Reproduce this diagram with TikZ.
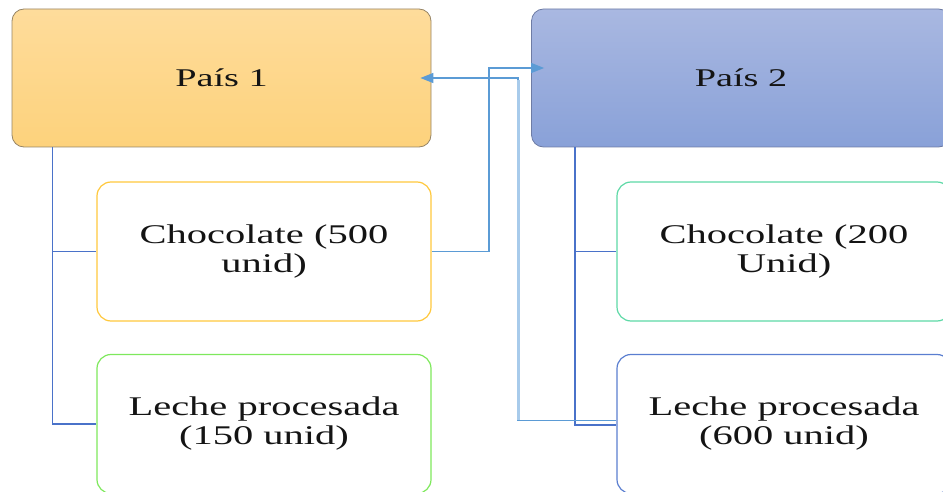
\documentclass[tikz,border=0pt]{standalone}
\usepackage{fontspec}
\setmainfont{Liberation Serif}[FakeStretch=1.5]
\usetikzlibrary{arrows.meta}
\definecolor{txt}{RGB}{20,20,20}
\definecolor{ptop}{RGB}{254,220,155}
\definecolor{pbot}{RGB}{253,210,124}
\definecolor{pbrd}{RGB}{150,132,100}
\definecolor{qtop}{RGB}{169,184,225}
\definecolor{qbot}{RGB}{137,161,216}
\definecolor{qbrd}{RGB}{110,124,165}
\definecolor{cyel}{RGB}{255,200,60}
\definecolor{cgrn}{RGB}{126,232,92}
\definecolor{cteal}{RGB}{93,217,166}
\definecolor{cblu}{RGB}{90,126,208}
\definecolor{treec}{RGB}{74,114,201}
\definecolor{conn}{RGB}{91,155,213}
\definecolor{connl}{RGB}{168,203,235}
\tikzset{
  country/.style={rounded corners=12pt, minimum width=419pt, minimum height=138pt,
    inner sep=0pt, line width=0.8pt, font=\fontsize{25.5}{26}\selectfont, text=txt},
  itembox/.style={rounded corners=14pt, minimum width=334pt, minimum height=139pt,
    inner sep=0pt, line width=1.2pt, fill=white, align=center,
    font=\fontsize{27}{29}\selectfont, text=txt},
  treeline/.style={draw=treec, line width=1.3pt},
  link/.style={draw=conn, line width=1.3pt, -{Triangle[length=13pt,width=10pt]}},
}
\begin{document}
\begin{tikzpicture}[x=1pt,y=-1pt]
\useasboundingbox (0,0) rectangle (943,492);
\clip (0,0) rectangle (943,492);
\node[country, draw=pbrd, top color=ptop, bottom color=pbot] (p1) at (221.5,78) {País 1};
\node[country, draw=qbrd, top color=qtop, bottom color=qbot] (p2) at (741,78) {País 2};
\node[itembox, draw=cyel] (c1) at (264,251.5) {Chocolate (500\\unid)};
\node[itembox, draw=cgrn] (l1) at (264,424) {Leche procesada\\(150 unid)};
\node[itembox, draw=cteal] (c2) at (784,251.5) {Chocolate (200\\Unid)};
\node[itembox, draw=cblu] (l2) at (784,424) {Leche procesada\\(600 unid)};
% trees
\coordinate (t1) at ([xshift=41pt]p1.south west);
\coordinate (t2) at ([xshift=44pt]p2.south west);
\draw[treeline] (t1) |- (c1.west);
\draw[treeline] (t1) |- (l1.west);
\draw[treeline] (t2) |- (c2.west);
\draw[treeline] (t2) |- ([yshift=-1pt]l2.west);
% connectors
\coordinate (k1) at (489,0);
\coordinate (k2) at (518,0);
\draw[link, shorten >=-13pt] (c1.east) -| ([yshift=10pt]k1 |- p2.west) -- ([yshift=10pt]p2.west);
\draw[link, shorten >=-11pt] ([yshift=3.5pt]l2.west) -| (k2 |- p1.east) -- (p1.east);
\draw[draw=connl, line width=3pt] ([yshift=-2pt]k2 |- p1.east) -- ([yshift=4pt]k2 |- l2.west);
\end{tikzpicture}
\end{document}
